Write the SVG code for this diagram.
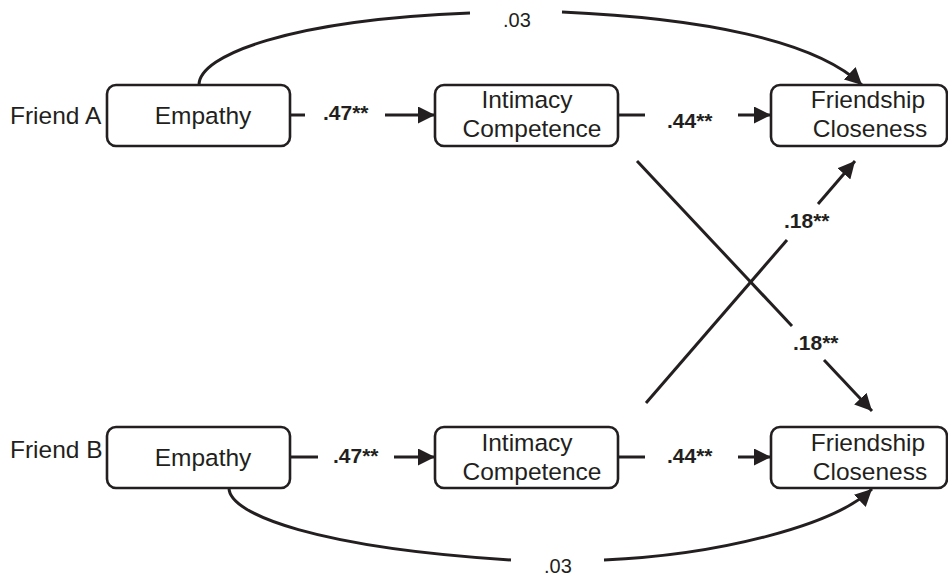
<svg xmlns="http://www.w3.org/2000/svg" width="948" height="579" viewBox="0 0 948 579">
<style>
.box{fill:#fff;stroke:#231f20;stroke-width:2.6}
.t{font-family:"Liberation Sans",Arial,sans-serif;font-size:24.5px;fill:#231f20}
.lbl{font-family:"Liberation Sans",Arial,sans-serif;font-size:20px;fill:#231f20}
.b{font-weight:bold;font-size:21px}
.c{fill:none;stroke:#231f20;stroke-width:3}
</style>
<defs>
<marker id="ah" markerUnits="userSpaceOnUse" markerWidth="18" markerHeight="17" refX="17" refY="8.5" orient="auto">
<path d="M0,0 L17,8.5 L0,17 z" fill="#231f20"/>
</marker>
</defs>
<rect width="948" height="579" fill="#fff"/>
<text class="t" x="10" y="124">Friend A</text>
<text class="t" x="10" y="458">Friend B</text>
<g id="connectors">
<line class="c" x1="290" y1="115" x2="305" y2="115"/>
<line class="c" x1="385" y1="115" x2="435" y2="115" marker-end="url(#ah)"/>
<line class="c" x1="618" y1="115" x2="645" y2="115"/>
<line class="c" x1="738" y1="115" x2="771" y2="115" marker-end="url(#ah)"/>
<line class="c" x1="290" y1="457" x2="318" y2="457"/>
<line class="c" x1="394" y1="457" x2="435" y2="457" marker-end="url(#ah)"/>
<line class="c" x1="618" y1="457" x2="645" y2="457"/>
<line class="c" x1="738" y1="457" x2="771" y2="457" marker-end="url(#ah)"/>
<path class="c" d="M199,85 C199,55 290,20 470,13"/>
<path class="c" d="M562,12 C700,18 815,40 862,85" marker-end="url(#ah)"/>
<path class="c" d="M229,488 C229,515 320,548 511,560"/>
<path class="c" d="M604,560 C720,555 835,525 872,489" marker-end="url(#ah)"/>
<line class="c" x1="637" y1="161" x2="792" y2="326"/>
<line class="c" x1="824" y1="360" x2="872" y2="411" marker-end="url(#ah)"/>
<line class="c" x1="646" y1="403" x2="787" y2="240"/>
<line class="c" x1="818" y1="204" x2="855" y2="161" marker-end="url(#ah)"/>
<text class="lbl b" x="323" y="120">.47**</text>
<text class="lbl b" x="667" y="128">.44**</text>
<text class="lbl b" x="333" y="463">.47**</text>
<text class="lbl b" x="667" y="463">.44**</text>
<text class="lbl b" x="784" y="228">.18**</text>
<text class="lbl b" x="793" y="350">.18**</text>
<text class="lbl" x="503" y="27">.03</text>
<text class="lbl" x="544" y="573">.03</text>
</g>
<g id="empathyA">
<rect class="box" x="107" y="85" width="183" height="61" rx="9"/>
<text class="t" x="203" y="124" text-anchor="middle">Empathy</text>
</g>
<g id="intimacyA">
<rect class="box" x="435" y="85" width="183" height="61" rx="9"/>
<text class="t" x="527" y="108" text-anchor="middle">Intimacy</text>
<text class="t" x="532" y="137" text-anchor="middle">Competence</text>
</g>
<g id="closenessA">
<rect class="box" x="771" y="85" width="176" height="61" rx="9"/>
<text class="t" x="868" y="108" text-anchor="middle">Friendship</text>
<text class="t" x="870" y="137" text-anchor="middle">Closeness</text>
</g>
<g id="empathyB">
<rect class="box" x="107" y="427" width="183" height="61" rx="9"/>
<text class="t" x="203" y="466" text-anchor="middle">Empathy</text>
</g>
<g id="intimacyB">
<rect class="box" x="435" y="427" width="183" height="61" rx="9"/>
<text class="t" x="527" y="451" text-anchor="middle">Intimacy</text>
<text class="t" x="532" y="480" text-anchor="middle">Competence</text>
</g>
<g id="closenessB">
<rect class="box" x="771" y="427" width="176" height="61" rx="9"/>
<text class="t" x="868" y="451" text-anchor="middle">Friendship</text>
<text class="t" x="870" y="480" text-anchor="middle">Closeness</text>
</g>
</svg>
